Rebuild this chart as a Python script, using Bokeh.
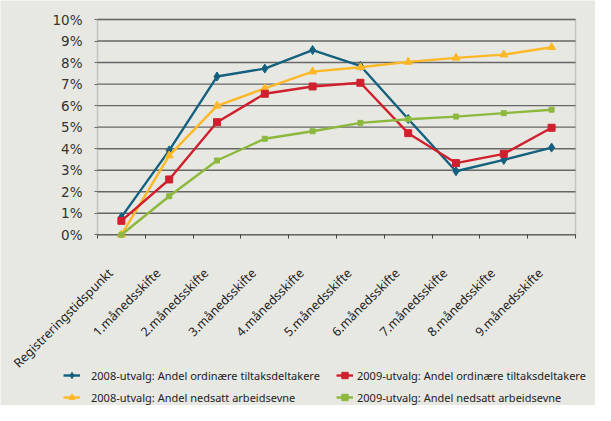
from math import pi
import numpy as np
from bokeh.plotting import figure
from bokeh.models import Range1d, FixedTicker, Legend, LegendItem, PrintfTickFormatter, BoxAnnotation
from bokeh.embed import file_html
from bokeh.resources import INLINE

categories = ["Registreringstidspunkt", "1.månedsskifte", "2.månedsskifte", "3.månedsskifte",
              "4.månedsskifte", "5.månedsskifte", "6.månedsskifte", "7.månedsskifte",
              "8.månedsskifte", "9.månedsskifte"]
ord_2008 = [0.82, 3.92, 7.35, 7.72, 8.58, 7.85, 5.38, 2.95, 3.48, 4.05]
ned_2008 = [0.0, 3.68, 5.99, 6.80, 7.58, 7.78, 8.03, 8.22, 8.37, 8.71]
ord_2009 = [0.65, 2.57, 5.23, 6.55, 6.89, 7.06, 4.72, 3.33, 3.76, 4.97]
ned_2009 = [0.0, 1.79, 3.45, 4.46, 4.81, 5.20, 5.37, 5.49, 5.65, 5.81]
y_ticks = list(range(0, 11))

labels = {
    "ord_2008": "2008-utvalg: Andel ordinære tiltaksdeltakere",
    "ord_2009": "2009-utvalg: Andel ordinære tiltaksdeltakere",
    "ned_2008": "2008-utvalg: Andel nedsatt arbeidsevne",
    "ned_2009": "2009-utvalg: Andel nedsatt arbeidsevne",
}

BG = "#e8e8e3"
n = len(categories)
x = np.arange(n) + 0.5
ymax = y_ticks[-1]

# layout (pixels): the frame covers the whole figure; the plot area inside it
# spans px_left..px_right and px_top..px_bottom
W, H = 595, 405
px_left, px_right, px_top, px_bottom = 97.0, 575.0, 19.0, 234.3
ux = (px_right - px_left) / n
uy = (px_bottom - px_top) / ymax
x_range = Range1d(-px_left / ux, n + (W - px_right) / ux)
y_range = Range1d(-(H - px_bottom) / uy, ymax + px_top / uy)
label_shift = 11 / ux   # rotated tick labels sit slightly left of the category centre

p = figure(width=W, height=H, output_backend="svg", toolbar_location=None,
           x_range=x_range, y_range=y_range, min_border=0)
p.background_fill_color = BG
p.border_fill_color = BG
p.outline_line_color = None
p.xgrid.visible = False
p.ygrid.visible = False

# gridlines and plot-area border
p.segment(x0=0, x1=n, y0=y_ticks, y1=y_ticks, line_color="#666666", line_width=1.4)
p.add_layout(BoxAnnotation(left=0, right=n, bottom=0, top=ymax, fill_alpha=0,
                           line_color="#707070", line_width=1.5, level="underlay"))

# axes drawn at fixed positions
label_pos = [float(v - label_shift) for v in x]
p.xaxis.fixed_location = 0
p.xaxis.ticker = FixedTicker(ticks=label_pos, minor_ticks=list(range(0, n + 1)))
p.xaxis.major_label_overrides = {v: c for v, c in zip(label_pos, categories)}
p.xaxis.major_label_orientation = pi / 4
p.xaxis.major_tick_line_color = None
p.xaxis.minor_tick_in = 0
p.xaxis.minor_tick_out = 4
p.xaxis.minor_tick_line_color = "#444444"
p.xaxis.axis_line_color = None
p.xaxis.major_label_text_font = "Noto Sans"
p.xaxis.major_label_text_font_size = "12.5px"
p.xaxis.major_label_text_color = "#222222"
p.xaxis.major_label_standoff = 30

p.yaxis.fixed_location = 0
p.yaxis.ticker = FixedTicker(ticks=y_ticks)
p.yaxis.formatter = PrintfTickFormatter(format="%d%%")
p.yaxis.major_tick_in = 0
p.yaxis.major_tick_out = 3
p.yaxis.major_tick_line_color = "#666666"
p.yaxis.minor_tick_line_color = None
p.yaxis.axis_line_color = None
p.yaxis.major_label_text_font = "DejaVu Sans"
p.yaxis.major_label_text_font_size = "13.5px"
p.yaxis.major_label_text_color = "#333333"
p.yaxis.major_label_standoff = 12

series = [
    ("ord_2008", ord_2008, "#13607f", "diamond", 9),
    ("ned_2008", ned_2008, "#fdb827", "triangle", 8),
    ("ord_2009", ord_2009, "#d0202e", "square", 7),
    ("ned_2009", ned_2009, "#8cb83e", "square", 5),
]
items = {}
for key, vals, col, marker, size in series:
    lr = p.line(x, vals, line_color=col, line_width=2.4)
    sr = p.scatter(x, vals, marker=marker, size=size, fill_color=col, line_color=col)
    items[key] = LegendItem(label=labels[key], renderers=[lr, sr])

def make_legend(its, vx, standoff):
    return Legend(items=its, location=(vx, 0), glyph_width=17, glyph_height=16,
                  label_height=16, spacing=6, padding=0, margin=0, label_standoff=standoff,
                  border_line_color=None, background_fill_alpha=0,
                  label_text_font="Noto Sans", label_text_font_size="11px",
                  label_text_color="#222222")

p.add_layout(make_legend([items["ord_2008"], items["ned_2008"]], 63, 11))
p.add_layout(make_legend([items["ord_2009"], items["ned_2009"]], 336, 4))

open("out.html", "w").write(file_html(p, INLINE))
